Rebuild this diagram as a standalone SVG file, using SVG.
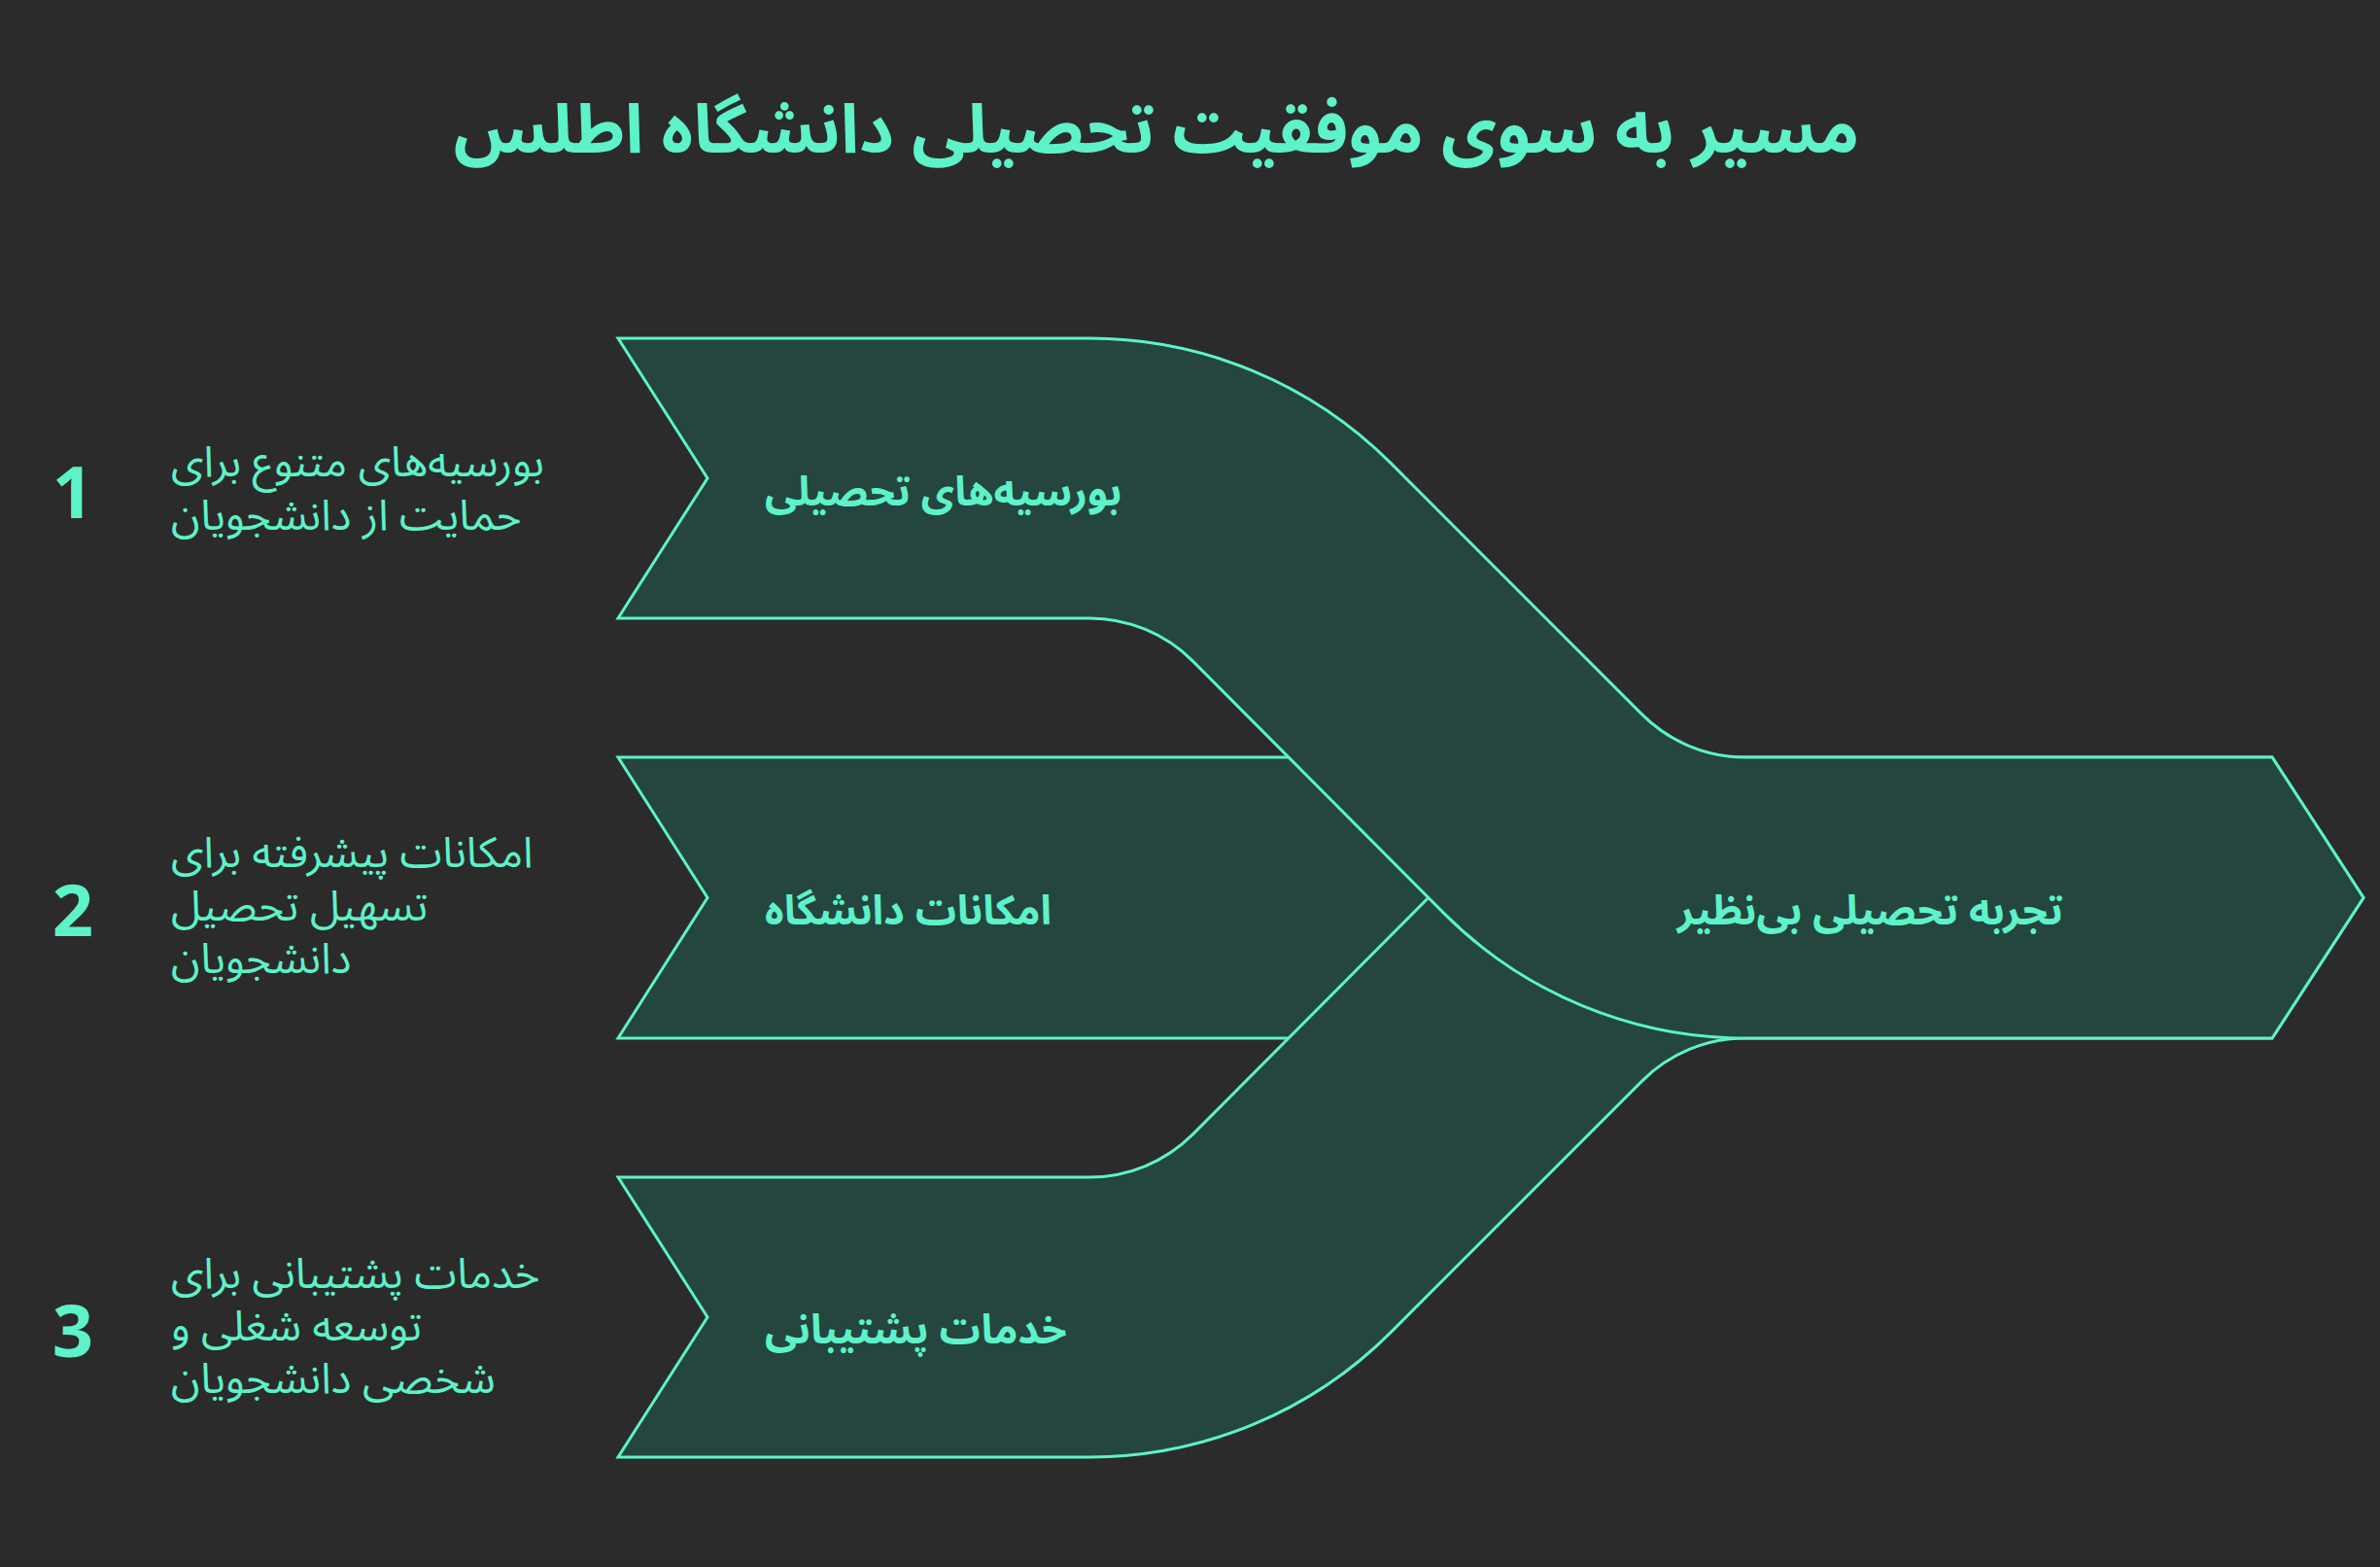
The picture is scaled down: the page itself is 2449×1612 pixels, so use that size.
<svg xmlns="http://www.w3.org/2000/svg" width="2449" height="1612" viewBox="0 0 2449 1612">
<style>
.bg{fill:#2b2b2b}
.band{fill:#24463f;stroke:#5df2c9;stroke-width:3;stroke-linejoin:miter}
.t{fill:#5df2c9;font-family:"Noto Sans Arabic","Noto Sans","DejaVu Sans",sans-serif}
.title{font-size:70px;font-weight:700}
.num{font-size:74px;font-weight:700}
.desc{font-size:44px;font-weight:400}
.lbl{font-size:42px;font-weight:700}
</style>
<defs>
<path id="ribbon" d="M636,348 H1121 A438.5,438.5 0 0 1 1431.1,476.4 L1689.6,734.9 A150.5,150.5 0 0 0 1796,779 H2338 L2432,923.5 L2338,1068 H1796 A438.5,438.5 0 0 1 1485.9,939.6 L1227.4,680.1 A150.5,150.5 0 0 0 1121,636 H636 L728,492 Z"/>
</defs>
<rect class="bg" x="0" y="0" width="2449" height="1612"/>
<text class="t title" x="1190" y="157" text-anchor="middle" direction="rtl">مسیر به سوی موفقیت تحصیلی دانشگاه اطلس</text>
<g id="connectors">
</g>
<g id="node-2">
<polygon class="band" points="636,779 1345,779 1489,923.5 1345,1068 636,1068 728,923.5"/>
<text class="t lbl" x="787" y="951" direction="rtl" text-anchor="end">امکانات دانشگاه</text>
</g>
<g id="node-3">
<use href="#ribbon" class="band" transform="translate(0,1847) scale(1,-1)"/>
<text class="t lbl" x="787" y="1382" direction="rtl" text-anchor="end">خدمات پشتیبانی</text>
</g>
<g id="node-1">
<use href="#ribbon" class="band"/>
<text class="t lbl" x="787" y="520" direction="rtl" text-anchor="end">بورسیه‌های تحصیلی</text>
</g>
<g id="node-output">
<text class="t lbl" x="1726" y="951" direction="rtl" text-anchor="end">تجربه تحصیلی بی‌نظیر</text>
</g>
<g id="step-1">
<text class="t num" x="75" y="533" text-anchor="middle">1</text>
<text class="t desc" x="176" y="490" direction="rtl" text-anchor="end">بورسیه‌های متنوع برای</text>
<text class="t desc" x="176" y="545" direction="rtl" text-anchor="end">حمایت از دانشجویان</text>
</g>
<g id="step-2">
<text class="t num" x="75" y="963" text-anchor="middle">2</text>
<text class="t desc" x="176" y="892" direction="rtl" text-anchor="end">امکانات پیشرفته برای</text>
<text class="t desc" x="176" y="947" direction="rtl" text-anchor="end">تسهیل تحصیل</text>
<text class="t desc" x="176" y="1001" direction="rtl" text-anchor="end">دانشجویان</text>
</g>
<g id="step-3">
<text class="t num" x="75" y="1396" text-anchor="middle">3</text>
<text class="t desc" x="176" y="1325" direction="rtl" text-anchor="end">خدمات پشتیبانی برای</text>
<text class="t desc" x="176" y="1379" direction="rtl" text-anchor="end">توسعه شغلی و</text>
<text class="t desc" x="176" y="1433" direction="rtl" text-anchor="end">شخصی دانشجویان</text>
</g>
</svg>
